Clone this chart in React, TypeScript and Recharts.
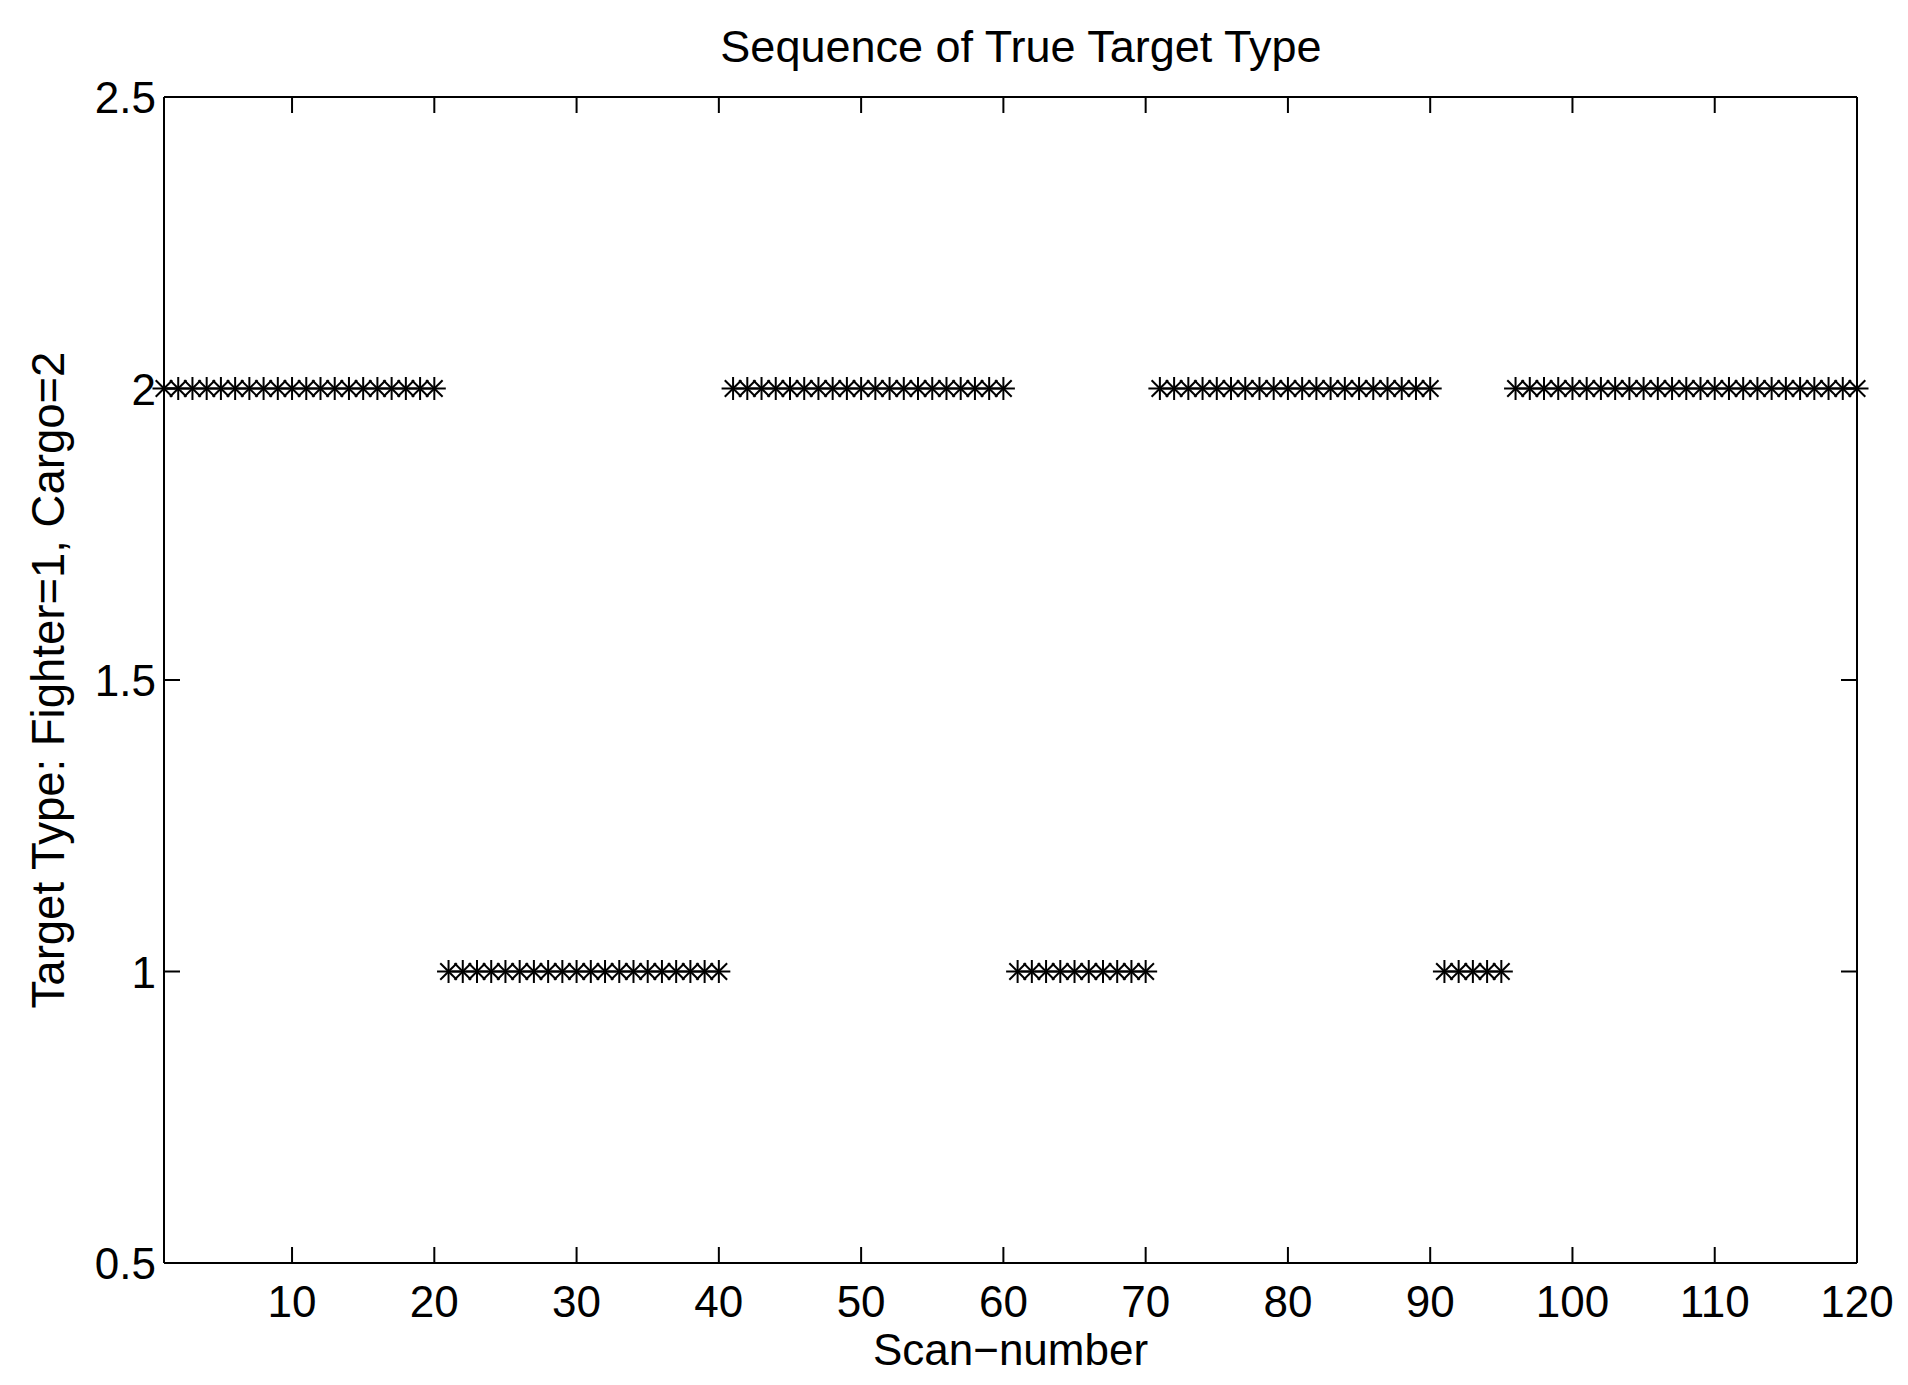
import React from 'react';
import { ScatterChart, Scatter, XAxis, YAxis } from 'recharts';

const scanNumbers = [
  1, 2, 3, 4, 5, 6, 7, 8, 9, 10, 11, 12, 13, 14, 15, 16, 17, 18, 19, 20,
  21, 22, 23, 24, 25, 26, 27, 28, 29, 30, 31, 32, 33, 34, 35, 36, 37, 38, 39, 40,
  41, 42, 43, 44, 45, 46, 47, 48, 49, 50, 51, 52, 53, 54, 55, 56, 57, 58, 59, 60,
  61, 62, 63, 64, 65, 66, 67, 68, 69, 70, 71, 72, 73, 74, 75, 76, 77, 78, 79, 80,
  81, 82, 83, 84, 85, 86, 87, 88, 89, 90, 91, 92, 93, 94, 95, 96, 97, 98, 99, 100,
  101, 102, 103, 104, 105, 106, 107, 108, 109, 110, 111, 112, 113, 114, 115, 116, 117, 118, 119, 120,
];

const targetType = [
  2, 2, 2, 2, 2, 2, 2, 2, 2, 2, 2, 2, 2, 2, 2, 2, 2, 2, 2, 2,
  1, 1, 1, 1, 1, 1, 1, 1, 1, 1, 1, 1, 1, 1, 1, 1, 1, 1, 1, 1,
  2, 2, 2, 2, 2, 2, 2, 2, 2, 2, 2, 2, 2, 2, 2, 2, 2, 2, 2, 2,
  1, 1, 1, 1, 1, 1, 1, 1, 1, 1, 2, 2, 2, 2, 2, 2, 2, 2, 2, 2,
  2, 2, 2, 2, 2, 2, 2, 2, 2, 2, 1, 1, 1, 1, 1, 2, 2, 2, 2, 2,
  2, 2, 2, 2, 2, 2, 2, 2, 2, 2, 2, 2, 2, 2, 2, 2, 2, 2, 2, 2,
];

const xTicks = [10, 20, 30, 40, 50, 60, 70, 80, 90, 100, 110, 120];
const yTicks = [0.5, 1, 1.5, 2, 2.5];
const xDomain = [1, 120];
const yDomain = [0.5, 2.5];

const titleText = 'Sequence of True Target Type';
const xLabelText = 'Scan\u2212number';
const yLabelText = 'Target Type: Fighter=1, Cargo=2';

const data = scanNumbers.map((s, i) => ({ scan: s, type: targetType[i] }));

const FONT = '"Liberation Sans", Arial, Helvetica, sans-serif';
const FS = 44;
const W = 1908;
const H = 1385;
const M = { top: 97, right: 51, bottom: 122, left: 164 };
const TICK = 16;
const LW = 2;

const Star = (props: any) => {
  const { cx, cy } = props;
  if (cx == null || cy == null) return null;
  const r = 11.5;
  const d = r * 0.72;
  return (
    <g stroke="#000" strokeWidth={2} fill="none">
      <line x1={cx - r} y1={cy} x2={cx + r} y2={cy} />
      <line x1={cx} y1={cy - r} x2={cx} y2={cy + r} />
      <line x1={cx - d} y1={cy - d} x2={cx + d} y2={cy + d} />
      <line x1={cx - d} y1={cy + d} x2={cx + d} y2={cy - d} />
    </g>
  );
};

const BottomTick = (props: any) => {
  const { x, y, payload } = props;
  return (
    <g>
      <line x1={x} y1={y} x2={x} y2={y - TICK} stroke="#000" strokeWidth={LW} />
      <text x={x} y={y + 54} textAnchor="middle" fontFamily={FONT} fontSize={FS} fill="#000">
        {payload.value}
      </text>
    </g>
  );
};

const TopTick = (props: any) => {
  const { x, y } = props;
  return <line x1={x} y1={y} x2={x} y2={y + TICK} stroke="#000" strokeWidth={LW} />;
};

const LeftTick = (props: any) => {
  const { x, y, payload } = props;
  return (
    <g>
      <line x1={x} y1={y} x2={x + TICK} y2={y} stroke="#000" strokeWidth={LW} />
      <text x={x - 8} y={y + 16} textAnchor="end" fontFamily={FONT} fontSize={FS} fill="#000">
        {payload.value}
      </text>
    </g>
  );
};

const RightTick = (props: any) => {
  const { x, y } = props;
  return <line x1={x} y1={y} x2={x - TICK} y2={y} stroke="#000" strokeWidth={LW} />;
};

export default function App() {
  const plotCx = M.left + (W - M.left - M.right) / 2;
  const plotCy = M.top + (H - M.top - M.bottom) / 2;
  return (
    <div style={{ position: 'absolute', left: 0, top: 0, width: W, height: H, background: '#fff' }}>
      <ScatterChart width={W} height={H} margin={{ top: M.top - 1, right: M.right - 1, bottom: 0, left: 0 }}>
        <XAxis
          xAxisId="b"
          dataKey="scan"
          type="number"
          domain={xDomain}
          ticks={xTicks}
          interval={0}
          height={M.bottom}
          tickSize={0}
          tickMargin={0}
          tickLine={false}
          tick={<BottomTick />}
          axisLine={{ stroke: '#000', strokeWidth: LW }}
        />
        <XAxis
          xAxisId="t"
          orientation="top"
          dataKey="scan"
          type="number"
          domain={xDomain}
          ticks={xTicks}
          interval={0}
          height={1}
          tickSize={0}
          tickMargin={0}
          tickLine={false}
          tick={<TopTick />}
          axisLine={{ stroke: '#000', strokeWidth: LW }}
        />
        <YAxis
          yAxisId="l"
          dataKey="type"
          type="number"
          domain={yDomain}
          ticks={yTicks}
          interval={0}
          width={M.left}
          tickSize={0}
          tickMargin={0}
          tickLine={false}
          tick={<LeftTick />}
          axisLine={{ stroke: '#000', strokeWidth: LW }}
        />
        <YAxis
          yAxisId="r"
          orientation="right"
          dataKey="type"
          type="number"
          domain={yDomain}
          ticks={yTicks}
          interval={0}
          width={1}
          tickSize={0}
          tickMargin={0}
          tickLine={false}
          tick={<RightTick />}
          axisLine={{ stroke: '#000', strokeWidth: LW }}
        />
        <Scatter
          data={data}
          xAxisId="b"
          yAxisId="l"
          dataKey="type"
          shape={<Star />}
          isAnimationActive={false}
        />
        <Scatter
          data={data}
          xAxisId="t"
          yAxisId="r"
          dataKey="type"
          shape={() => null}
          isAnimationActive={false}
        />
      </ScatterChart>
      <svg
        width={W}
        height={H}
        style={{ position: 'absolute', left: 0, top: 0, pointerEvents: 'none' }}
      >
        <text x={1021} y={62} textAnchor="middle" fontFamily={FONT} fontSize={45} fill="#000">
          {titleText}
        </text>
        <text x={plotCx} y={1365} textAnchor="middle" fontFamily={FONT} fontSize={FS} fill="#000">
          {xLabelText}
        </text>
        <text
          x={64}
          y={plotCy}
          textAnchor="middle"
          fontFamily={FONT}
          fontSize={45.5}
          fill="#000"
          transform={`rotate(-90 64 ${plotCy})`}
        >
          {yLabelText}
        </text>
      </svg>
    </div>
  );
}
